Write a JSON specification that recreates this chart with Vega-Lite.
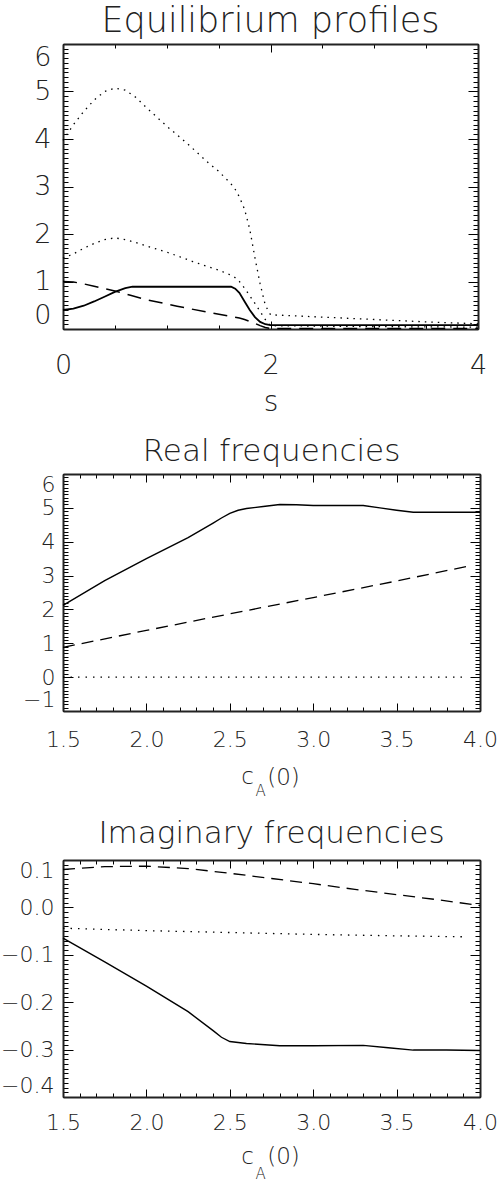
{
  "$schema": "https://vega.github.io/schema/vega-lite/v6.json",
  "padding": {"left": 0, "right": 0, "top": 4, "bottom": 0},
  "config": {
    "font": "DejaVu Sans",
    "view": {"stroke": null},
    "axis": {"grid": false, "domainColor": "#222", "domainWidth": 2, "labelColor": "#222", "labelFont": "DejaVu Sans", "labelFontWeight": 200, "labelOverlap": false, "titleFont": "DejaVu Sans", "titleFontWeight": 200, "titleColor": "#222", "gridColor": "#000", "gridOpacity": 1, "gridWidth": 1},
    "title": {"font": "DejaVu Sans", "fontWeight": 200, "color": "#222", "anchor": "middle"}
  },
  "vconcat": [
    {
      "width": 415, "height": 285,
      "title": {"text": "Equilibrium profiles", "fontSize": 35, "offset": 4},
      "data": {"values": [
        {"x": 0, "y": 0.40, "k": "c1"}, {"x": 0.1, "y": 0.43, "k": "c1"}, {"x": 0.2, "y": 0.49, "k": "c1"}, {"x": 0.3, "y": 0.58, "k": "c1"}, {"x": 0.4, "y": 0.68, "k": "c1"}, {"x": 0.5, "y": 0.78, "k": "c1"}, {"x": 0.6, "y": 0.86, "k": "c1"}, {"x": 0.67, "y": 0.89, "k": "c1"}, {"x": 1.0, "y": 0.89, "k": "c1"}, {"x": 1.62, "y": 0.89, "k": "c1"}, {"x": 1.66, "y": 0.85, "k": "c1"}, {"x": 1.7, "y": 0.76, "k": "c1"}, {"x": 1.75, "y": 0.58, "k": "c1"}, {"x": 1.8, "y": 0.40, "k": "c1"}, {"x": 1.85, "y": 0.25, "k": "c1"}, {"x": 1.9, "y": 0.15, "k": "c1"}, {"x": 1.95, "y": 0.10, "k": "c1"}, {"x": 2.0, "y": 0.08, "k": "c1"}, {"x": 3.0, "y": 0.08, "k": "c1"}, {"x": 4.0, "y": 0.08, "k": "c1"},
        {"x": 0, "y": 1.0, "k": "c2"}, {"x": 0.1, "y": 0.99, "k": "c2"}, {"x": 0.2, "y": 0.95, "k": "c2"}, {"x": 0.3, "y": 0.9, "k": "c2"}, {"x": 0.4, "y": 0.85, "k": "c2"}, {"x": 0.5, "y": 0.80, "k": "c2"}, {"x": 0.65, "y": 0.71, "k": "c2"}, {"x": 0.8, "y": 0.62, "k": "c2"}, {"x": 1.1, "y": 0.48, "k": "c2"}, {"x": 1.4, "y": 0.35, "k": "c2"}, {"x": 1.6, "y": 0.27, "k": "c2"}, {"x": 1.7, "y": 0.23, "k": "c2"}, {"x": 1.75, "y": 0.2, "k": "c2"}, {"x": 1.8, "y": 0.16, "k": "c2"}, {"x": 1.85, "y": 0.12, "k": "c2"}, {"x": 1.9, "y": 0.07, "k": "c2"}, {"x": 1.95, "y": 0.03, "k": "c2"}, {"x": 2.0, "y": 0.01, "k": "c2"}, {"x": 4.0, "y": 0.01, "k": "c2"},
        {"x": 0, "y": 3.97, "k": "c3"}, {"x": 0.1, "y": 4.3, "k": "c3"}, {"x": 0.2, "y": 4.58, "k": "c3"}, {"x": 0.3, "y": 4.82, "k": "c3"}, {"x": 0.4, "y": 5.0, "k": "c3"}, {"x": 0.5, "y": 5.07, "k": "c3"}, {"x": 0.6, "y": 5.03, "k": "c3"}, {"x": 0.7, "y": 4.88, "k": "c3"}, {"x": 0.8, "y": 4.67, "k": "c3"}, {"x": 1.0, "y": 4.27, "k": "c3"}, {"x": 1.2, "y": 3.9, "k": "c3"}, {"x": 1.4, "y": 3.5, "k": "c3"}, {"x": 1.5, "y": 3.32, "k": "c3"}, {"x": 1.6, "y": 3.1, "k": "c3"}, {"x": 1.65, "y": 2.98, "k": "c3"}, {"x": 1.7, "y": 2.78, "k": "c3"}, {"x": 1.75, "y": 2.52, "k": "c3"}, {"x": 1.8, "y": 2.1, "k": "c3"}, {"x": 1.85, "y": 1.5, "k": "c3"}, {"x": 1.9, "y": 0.95, "k": "c3"}, {"x": 1.95, "y": 0.5, "k": "c3"}, {"x": 2.0, "y": 0.3, "k": "c3"}, {"x": 2.5, "y": 0.25, "k": "c3"}, {"x": 3.0, "y": 0.2, "k": "c3"}, {"x": 3.5, "y": 0.15, "k": "c3"}, {"x": 4.0, "y": 0.11, "k": "c3"},
        {"x": 0, "y": 1.49, "k": "c4"}, {"x": 0.1, "y": 1.58, "k": "c4"}, {"x": 0.2, "y": 1.7, "k": "c4"}, {"x": 0.3, "y": 1.8, "k": "c4"}, {"x": 0.4, "y": 1.88, "k": "c4"}, {"x": 0.5, "y": 1.92, "k": "c4"}, {"x": 0.6, "y": 1.88, "k": "c4"}, {"x": 0.7, "y": 1.82, "k": "c4"}, {"x": 0.8, "y": 1.75, "k": "c4"}, {"x": 1.0, "y": 1.62, "k": "c4"}, {"x": 1.25, "y": 1.42, "k": "c4"}, {"x": 1.5, "y": 1.24, "k": "c4"}, {"x": 1.6, "y": 1.15, "k": "c4"}, {"x": 1.65, "y": 1.1, "k": "c4"}, {"x": 1.7, "y": 1.0, "k": "c4"}, {"x": 1.75, "y": 0.86, "k": "c4"}, {"x": 1.8, "y": 0.7, "k": "c4"}, {"x": 1.85, "y": 0.54, "k": "c4"}, {"x": 1.9, "y": 0.37, "k": "c4"}, {"x": 1.95, "y": 0.2, "k": "c4"}, {"x": 2.0, "y": 0.07, "k": "c4"}, {"x": 3.0, "y": 0.05, "k": "c4"}, {"x": 4.0, "y": 0.04, "k": "c4"}
      ]},
      "layer": [
        {
          "transform": [{"filter": "datum.k === 'c1'"}],
          "mark": {"type": "line", "color": "black", "strokeWidth": 1.8},
          "encoding": {
            "x": {"field": "x", "type": "quantitative", "scale": {"domain": [0, 4], "nice": false, "zero": false},
                  "axis": {"orient": "bottom", "values": [0, 2, 4], "format": "d", "ticks": false, "labelFontSize": 27, "labelPadding": 23, "labelFlush": false, "title": "s", "titleFontSize": 28, "titlePadding": 10}},
            "y": {"field": "y", "type": "quantitative", "scale": {"domain": [0, 6], "nice": false, "zero": false},
                  "axis": {"orient": "left", "values": [0, 1, 2, 3, 4, 5, 6], "format": "d", "ticks": false, "labelFontSize": 27, "labelPadding": 12, "labelFlush": true, "title": null}}
          }
        },
        {
          "transform": [{"filter": "datum.k === 'c2'"}],
          "mark": {"type": "line", "color": "black", "strokeWidth": 1.5, "strokeDash": [14, 8]},
          "encoding": {
            "x": {"field": "x", "type": "quantitative", "scale": {"domain": [0, 4], "nice": false, "zero": false}, "axis": null},
            "y": {"field": "y", "type": "quantitative", "scale": {"domain": [0, 6], "nice": false, "zero": false}, "axis": null}
          }
        },
        {
          "transform": [{"filter": "datum.k === 'c3'"}],
          "mark": {"type": "line", "color": "black", "strokeWidth": 1.3, "strokeDash": [1.5, 5]},
          "encoding": {
            "x": {"field": "x", "type": "quantitative", "scale": {"domain": [0, 4], "nice": false, "zero": false}, "axis": null},
            "y": {"field": "y", "type": "quantitative", "scale": {"domain": [0, 6], "nice": false, "zero": false}, "axis": null}
          }
        },
        {
          "transform": [{"filter": "datum.k === 'c4'"}],
          "mark": {"type": "line", "color": "black", "strokeWidth": 1.3, "strokeDash": [1.5, 5]},
          "encoding": {
            "x": {"field": "x", "type": "quantitative", "scale": {"domain": [0, 4], "nice": false, "zero": false}, "axis": null},
            "y": {"field": "y", "type": "quantitative", "scale": {"domain": [0, 6], "nice": false, "zero": false}, "axis": null}
          }
        },
        {
          "mark": {"type": "point", "opacity": 0},
          "encoding": {
            "x": {"field": "x", "type": "quantitative", "scale": {"domain": [0, 4], "nice": false, "zero": false},
                  "axis": {"orient": "bottom", "values": [0, 2, 4], "grid": true, "gridDash": [8, 2000], "ticks": false, "labels": false, "domain": false, "title": null}},
            "y": {"field": "y", "type": "quantitative", "scale": {"domain": [0, 6], "nice": false, "zero": false},
                  "axis": {"orient": "left", "values": [0, 1, 2, 3, 4, 5, 6], "grid": true, "gridDash": [10, 2000], "ticks": false, "labels": false, "domain": false, "title": null}}
          }
        },
        {
          "mark": {"type": "point", "opacity": 0},
          "encoding": {
            "x": {"field": "x", "type": "quantitative", "scale": {"domain": [0, 4], "nice": false, "zero": false},
                  "axis": {"orient": "bottom", "tickCount": 8, "grid": true, "gridDash": [4, 2000], "ticks": false, "labels": false, "domain": false, "title": null}},
            "y": {"field": "y", "type": "quantitative", "scale": {"domain": [0, 6], "nice": false, "zero": false},
                  "axis": {"orient": "left", "tickCount": 60, "grid": true, "gridDash": [5, 2000], "ticks": false, "labels": false, "domain": false, "title": null}}
          }
        },
        {
          "mark": {"type": "point", "opacity": 0},
          "encoding": {
            "x": {"field": "x", "type": "quantitative", "scale": {"domain": [0, 4], "nice": false, "zero": false},
                  "axis": {"orient": "top", "values": [0, 2, 4], "grid": true, "gridDash": [8, 2000], "ticks": false, "labels": false, "domain": false, "title": null}},
            "y": {"field": "y", "type": "quantitative", "scale": {"domain": [0, 6], "nice": false, "zero": false},
                  "axis": {"orient": "right", "values": [0, 1, 2, 3, 4, 5, 6], "grid": true, "gridDash": [10, 2000], "ticks": false, "labels": false, "domain": false, "title": null}}
          }
        },
        {
          "mark": {"type": "point", "opacity": 0},
          "encoding": {
            "x": {"field": "x", "type": "quantitative", "scale": {"domain": [0, 4], "nice": false, "zero": false},
                  "axis": {"orient": "top", "tickCount": 8, "grid": true, "gridDash": [4, 2000], "ticks": false, "labels": false, "domain": false, "title": null}},
            "y": {"field": "y", "type": "quantitative", "scale": {"domain": [0, 6], "nice": false, "zero": false},
                  "axis": {"orient": "right", "tickCount": 60, "grid": true, "gridDash": [5, 2000], "ticks": false, "labels": false, "domain": false, "title": null}}
          }
        },
        {
          "mark": {"type": "point", "opacity": 0},
          "encoding": {
            "x": {"field": "x", "type": "quantitative", "scale": {"domain": [0, 4], "nice": false, "zero": false},
                  "axis": {"orient": "top", "ticks": false, "labels": false, "title": null}},
            "y": {"field": "y", "type": "quantitative", "scale": {"domain": [0, 6], "nice": false, "zero": false},
                  "axis": {"orient": "right", "ticks": false, "labels": false, "title": null}}
          }
        }
      ],
      "resolve": {"axis": {"x": "independent", "y": "independent"}}
    },
    {
      "width": 417, "height": 237,
      "title": {"text": "Real frequencies", "fontSize": 31, "offset": 5},
      "data": {"values": [
        {"x": 1.5, "y": 2.12, "k": "c1"}, {"x": 1.75, "y": 2.85, "k": "c1"}, {"x": 2.0, "y": 3.5, "k": "c1"}, {"x": 2.25, "y": 4.12, "k": "c1"}, {"x": 2.4, "y": 4.55, "k": "c1"}, {"x": 2.45, "y": 4.7, "k": "c1"}, {"x": 2.5, "y": 4.84, "k": "c1"}, {"x": 2.55, "y": 4.93, "k": "c1"}, {"x": 2.6, "y": 4.98, "k": "c1"}, {"x": 2.7, "y": 5.04, "k": "c1"}, {"x": 2.8, "y": 5.1, "k": "c1"}, {"x": 2.9, "y": 5.09, "k": "c1"}, {"x": 3.0, "y": 5.07, "k": "c1"}, {"x": 3.1, "y": 5.07, "k": "c1"}, {"x": 3.2, "y": 5.07, "k": "c1"}, {"x": 3.3, "y": 5.07, "k": "c1"}, {"x": 3.4, "y": 5.0, "k": "c1"}, {"x": 3.5, "y": 4.93, "k": "c1"}, {"x": 3.6, "y": 4.87, "k": "c1"}, {"x": 3.7, "y": 4.87, "k": "c1"}, {"x": 3.8, "y": 4.87, "k": "c1"}, {"x": 3.9, "y": 4.87, "k": "c1"}, {"x": 4.0, "y": 4.87, "k": "c1"},
        {"x": 1.5, "y": 0.88, "k": "c2"}, {"x": 2.0, "y": 1.38, "k": "c2"}, {"x": 2.5, "y": 1.87, "k": "c2"}, {"x": 3.0, "y": 2.35, "k": "c2"}, {"x": 3.5, "y": 2.84, "k": "c2"}, {"x": 3.95, "y": 3.3, "k": "c2"},
        {"x": 1.5, "y": 0, "k": "c3"}, {"x": 2.5, "y": 0, "k": "c3"}, {"x": 3.9, "y": 0, "k": "c3"}
      ]},
      "layer": [
        {
          "transform": [{"filter": "datum.k === 'c1'"}],
          "mark": {"type": "line", "color": "black", "strokeWidth": 1.4},
          "encoding": {
            "x": {"field": "x", "type": "quantitative", "scale": {"domain": [1.5, 4], "nice": false, "zero": false},
                  "axis": {"orient": "bottom", "values": [1.5, 2, 2.5, 3, 3.5, 4], "format": ".1f", "ticks": false, "labelFontSize": 22, "labelPadding": 18, "labelFlush": false, "title": "c", "titleFontSize": 23, "titleX": 184, "titleY": 72, "titleAlign": "center", "titleBaseline": "alphabetic", "titleAnchor": null}},
            "y": {"field": "y", "type": "quantitative", "scale": {"domain": [-1, 6], "nice": false, "zero": false},
                  "axis": {"orient": "left", "values": [-1, 0, 1, 2, 3, 4, 5, 6], "format": "d", "ticks": false, "labelFontSize": 22, "labelPadding": 8, "labelFlush": true, "title": null}}
          }
        },
        {
          "transform": [{"filter": "datum.k === 'c2'"}],
          "mark": {"type": "line", "color": "black", "strokeWidth": 1.3, "strokeDash": [12, 7]},
          "encoding": {
            "x": {"field": "x", "type": "quantitative", "scale": {"domain": [1.5, 4], "nice": false, "zero": false}, "axis": null},
            "y": {"field": "y", "type": "quantitative", "scale": {"domain": [-1, 6], "nice": false, "zero": false}, "axis": null}
          }
        },
        {
          "transform": [{"filter": "datum.k === 'c3'"}],
          "mark": {"type": "line", "color": "black", "strokeWidth": 1.3, "strokeDash": [1.5, 6]},
          "encoding": {
            "x": {"field": "x", "type": "quantitative", "scale": {"domain": [1.5, 4], "nice": false, "zero": false}, "axis": null},
            "y": {"field": "y", "type": "quantitative", "scale": {"domain": [-1, 6], "nice": false, "zero": false}, "axis": null}
          }
        },
        {
          "mark": {"type": "point", "opacity": 0},
          "encoding": {
            "x": {"field": "x", "type": "quantitative", "scale": {"domain": [1.5, 4], "nice": false, "zero": false},
                  "axis": {"orient": "bottom", "values": [1.5, 2, 2.5, 3, 3.5, 4], "grid": true, "gridDash": [8, 2000], "ticks": false, "labels": false, "domain": false, "title": null}},
            "y": {"field": "y", "type": "quantitative", "scale": {"domain": [-1, 6], "nice": false, "zero": false},
                  "axis": {"orient": "left", "values": [-1, 0, 1, 2, 3, 4, 5, 6], "grid": true, "gridDash": [10, 2000], "ticks": false, "labels": false, "domain": false, "title": null}}
          }
        },
        {
          "mark": {"type": "point", "opacity": 0},
          "encoding": {
            "x": {"field": "x", "type": "quantitative", "scale": {"domain": [1.5, 4], "nice": false, "zero": false},
                  "axis": {"orient": "bottom", "tickCount": 25, "grid": true, "gridDash": [4, 2000], "ticks": false, "labels": false, "domain": false, "title": "A", "titleFontSize": 15, "titleX": 197, "titleY": 84, "titleAlign": "center", "titleBaseline": "alphabetic", "titleAnchor": null}},
            "y": {"field": "y", "type": "quantitative", "scale": {"domain": [-1, 6], "nice": false, "zero": false},
                  "axis": {"orient": "left", "tickCount": 70, "grid": true, "gridDash": [5, 2000], "ticks": false, "labels": false, "domain": false, "title": null}}
          }
        },
        {
          "mark": {"type": "point", "opacity": 0},
          "encoding": {
            "x": {"field": "x", "type": "quantitative", "scale": {"domain": [1.5, 4], "nice": false, "zero": false},
                  "axis": {"orient": "top", "values": [1.5, 2, 2.5, 3, 3.5, 4], "grid": true, "gridDash": [8, 2000], "ticks": false, "labels": false, "domain": false, "title": null}},
            "y": {"field": "y", "type": "quantitative", "scale": {"domain": [-1, 6], "nice": false, "zero": false},
                  "axis": {"orient": "right", "values": [-1, 0, 1, 2, 3, 4, 5, 6], "grid": true, "gridDash": [10, 2000], "ticks": false, "labels": false, "domain": false, "title": null}}
          }
        },
        {
          "mark": {"type": "point", "opacity": 0},
          "encoding": {
            "x": {"field": "x", "type": "quantitative", "scale": {"domain": [1.5, 4], "nice": false, "zero": false},
                  "axis": {"orient": "top", "tickCount": 25, "grid": true, "gridDash": [4, 2000], "ticks": false, "labels": false, "domain": false, "title": null}},
            "y": {"field": "y", "type": "quantitative", "scale": {"domain": [-1, 6], "nice": false, "zero": false},
                  "axis": {"orient": "right", "tickCount": 70, "grid": true, "gridDash": [5, 2000], "ticks": false, "labels": false, "domain": false, "title": null}}
          }
        },
        {
          "mark": {"type": "point", "opacity": 0},
          "encoding": {
            "x": {"field": "x", "type": "quantitative", "scale": {"domain": [1.5, 4], "nice": false, "zero": false},
                  "axis": {"orient": "top", "ticks": false, "labels": false, "title": "(0)", "titleFontSize": 23, "titleX": 220, "titleY": 310, "titleAlign": "center", "titleBaseline": "alphabetic", "titleAnchor": null}},
            "y": {"field": "y", "type": "quantitative", "scale": {"domain": [-1, 6], "nice": false, "zero": false},
                  "axis": {"orient": "right", "ticks": false, "labels": false, "title": null}}
          }
        }
      ],
      "resolve": {"axis": {"x": "independent", "y": "independent"}}
    },
    {
      "width": 417, "height": 237,
      "title": {"text": "Imaginary frequencies", "fontSize": 31, "offset": 9},
      "data": {"values": [
        {"x": 1.5, "y": -0.065, "k": "c1"}, {"x": 1.75, "y": -0.115, "k": "c1"}, {"x": 2.0, "y": -0.166, "k": "c1"}, {"x": 2.25, "y": -0.22, "k": "c1"}, {"x": 2.4, "y": -0.26, "k": "c1"}, {"x": 2.45, "y": -0.274, "k": "c1"}, {"x": 2.5, "y": -0.283, "k": "c1"}, {"x": 2.6, "y": -0.287, "k": "c1"}, {"x": 2.8, "y": -0.292, "k": "c1"}, {"x": 3.0, "y": -0.292, "k": "c1"}, {"x": 3.3, "y": -0.291, "k": "c1"}, {"x": 3.45, "y": -0.296, "k": "c1"}, {"x": 3.6, "y": -0.301, "k": "c1"}, {"x": 3.8, "y": -0.301, "k": "c1"}, {"x": 4.0, "y": -0.302, "k": "c1"},
        {"x": 1.5, "y": 0.08, "k": "c2"}, {"x": 1.75, "y": 0.086, "k": "c2"}, {"x": 2.0, "y": 0.087, "k": "c2"}, {"x": 2.25, "y": 0.082, "k": "c2"}, {"x": 2.5, "y": 0.072, "k": "c2"}, {"x": 2.75, "y": 0.061, "k": "c2"}, {"x": 3.0, "y": 0.05, "k": "c2"}, {"x": 3.25, "y": 0.038, "k": "c2"}, {"x": 3.5, "y": 0.027, "k": "c2"}, {"x": 3.75, "y": 0.016, "k": "c2"}, {"x": 4.0, "y": 0.004, "k": "c2"},
        {"x": 1.5, "y": -0.044, "k": "c3"}, {"x": 2.0, "y": -0.049, "k": "c3"}, {"x": 2.5, "y": -0.053, "k": "c3"}, {"x": 3.0, "y": -0.057, "k": "c3"}, {"x": 3.5, "y": -0.06, "k": "c3"}, {"x": 3.9, "y": -0.062, "k": "c3"}
      ]},
      "layer": [
        {
          "transform": [{"filter": "datum.k === 'c1'"}],
          "mark": {"type": "line", "color": "black", "strokeWidth": 1.4},
          "encoding": {
            "x": {"field": "x", "type": "quantitative", "scale": {"domain": [1.5, 4], "nice": false, "zero": false},
                  "axis": {"orient": "bottom", "values": [1.5, 2, 2.5, 3, 3.5, 4], "format": ".1f", "ticks": false, "labelFontSize": 22, "labelPadding": 15, "labelFlush": false, "title": "c", "titleFontSize": 23, "titleX": 184, "titleY": 66, "titleAlign": "center", "titleBaseline": "alphabetic", "titleAnchor": null}},
            "y": {"field": "y", "type": "quantitative", "scale": {"domain": [-0.4, 0.1], "nice": false, "zero": false},
                  "axis": {"orient": "left", "values": [-0.4, -0.3, -0.2, -0.1, 0, 0.1], "format": ".1f", "ticks": false, "labelFontSize": 22, "labelPadding": 9, "labelFlush": true, "title": null}}
          }
        },
        {
          "transform": [{"filter": "datum.k === 'c2'"}],
          "mark": {"type": "line", "color": "black", "strokeWidth": 1.3, "strokeDash": [12, 7]},
          "encoding": {
            "x": {"field": "x", "type": "quantitative", "scale": {"domain": [1.5, 4], "nice": false, "zero": false}, "axis": null},
            "y": {"field": "y", "type": "quantitative", "scale": {"domain": [-0.4, 0.1], "nice": false, "zero": false}, "axis": null}
          }
        },
        {
          "transform": [{"filter": "datum.k === 'c3'"}],
          "mark": {"type": "line", "color": "black", "strokeWidth": 1.3, "strokeDash": [1.5, 6]},
          "encoding": {
            "x": {"field": "x", "type": "quantitative", "scale": {"domain": [1.5, 4], "nice": false, "zero": false}, "axis": null},
            "y": {"field": "y", "type": "quantitative", "scale": {"domain": [-0.4, 0.1], "nice": false, "zero": false}, "axis": null}
          }
        },
        {
          "mark": {"type": "point", "opacity": 0},
          "encoding": {
            "x": {"field": "x", "type": "quantitative", "scale": {"domain": [1.5, 4], "nice": false, "zero": false},
                  "axis": {"orient": "bottom", "values": [1.5, 2, 2.5, 3, 3.5, 4], "grid": true, "gridDash": [8, 2000], "ticks": false, "labels": false, "domain": false, "title": null}},
            "y": {"field": "y", "type": "quantitative", "scale": {"domain": [-0.4, 0.1], "nice": false, "zero": false},
                  "axis": {"orient": "left", "values": [-0.4, -0.3, -0.2, -0.1, 0, 0.1], "grid": true, "gridDash": [10, 2000], "ticks": false, "labels": false, "domain": false, "title": null}}
          }
        },
        {
          "mark": {"type": "point", "opacity": 0},
          "encoding": {
            "x": {"field": "x", "type": "quantitative", "scale": {"domain": [1.5, 4], "nice": false, "zero": false},
                  "axis": {"orient": "bottom", "tickCount": 25, "grid": true, "gridDash": [4, 2000], "ticks": false, "labels": false, "domain": false, "title": "A", "titleFontSize": 15, "titleX": 197, "titleY": 81, "titleAlign": "center", "titleBaseline": "alphabetic", "titleAnchor": null}},
            "y": {"field": "y", "type": "quantitative", "scale": {"domain": [-0.4, 0.1], "nice": false, "zero": false},
                  "axis": {"orient": "left", "tickCount": 50, "grid": true, "gridDash": [5, 2000], "ticks": false, "labels": false, "domain": false, "title": null}}
          }
        },
        {
          "mark": {"type": "point", "opacity": 0},
          "encoding": {
            "x": {"field": "x", "type": "quantitative", "scale": {"domain": [1.5, 4], "nice": false, "zero": false},
                  "axis": {"orient": "top", "values": [1.5, 2, 2.5, 3, 3.5, 4], "grid": true, "gridDash": [8, 2000], "ticks": false, "labels": false, "domain": false, "title": null}},
            "y": {"field": "y", "type": "quantitative", "scale": {"domain": [-0.4, 0.1], "nice": false, "zero": false},
                  "axis": {"orient": "right", "values": [-0.4, -0.3, -0.2, -0.1, 0, 0.1], "grid": true, "gridDash": [10, 2000], "ticks": false, "labels": false, "domain": false, "title": null}}
          }
        },
        {
          "mark": {"type": "point", "opacity": 0},
          "encoding": {
            "x": {"field": "x", "type": "quantitative", "scale": {"domain": [1.5, 4], "nice": false, "zero": false},
                  "axis": {"orient": "top", "tickCount": 25, "grid": true, "gridDash": [4, 2000], "ticks": false, "labels": false, "domain": false, "title": null}},
            "y": {"field": "y", "type": "quantitative", "scale": {"domain": [-0.4, 0.1], "nice": false, "zero": false},
                  "axis": {"orient": "right", "tickCount": 50, "grid": true, "gridDash": [5, 2000], "ticks": false, "labels": false, "domain": false, "title": null}}
          }
        },
        {
          "mark": {"type": "point", "opacity": 0},
          "encoding": {
            "x": {"field": "x", "type": "quantitative", "scale": {"domain": [1.5, 4], "nice": false, "zero": false},
                  "axis": {"orient": "top", "ticks": false, "labels": false, "title": "(0)", "titleFontSize": 23, "titleX": 220, "titleY": 303, "titleAlign": "center", "titleBaseline": "alphabetic", "titleAnchor": null}},
            "y": {"field": "y", "type": "quantitative", "scale": {"domain": [-0.4, 0.1], "nice": false, "zero": false},
                  "axis": {"orient": "right", "ticks": false, "labels": false, "title": null}}
          }
        }
      ],
      "resolve": {"axis": {"x": "independent", "y": "independent"}}
    }
  ]
}
